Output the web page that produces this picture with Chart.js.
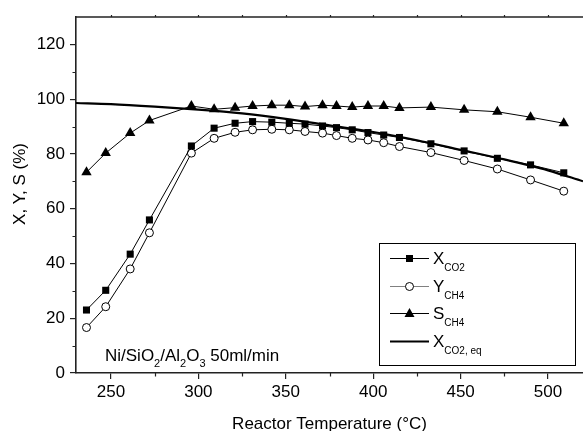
<!DOCTYPE html>
<html>
<head>
<meta charset="utf-8">
<script src="https://cdn.jsdelivr.net/npm/chart.js@4.4.1/dist/chart.umd.min.js"></script>
<style>
html, body { margin: 0; padding: 0; background: #fff; overflow: hidden; }
</style>
</head>
<body>
<canvas id="myChart" width="583" height="431"></canvas>
<script>
// reactor temperatures (°C) of the measured points
let temps = [236, 247, 261, 272, 296, 309, 321, 331, 342, 352, 361, 371, 379, 388, 397, 406, 415, 433, 452, 471, 490, 509];
let xCO2 = [23.0, 30.2, 43.4, 55.9, 82.9, 89.4, 91.2, 91.8, 91.6, 91.2, 90.9, 90.2, 89.6, 88.8, 87.8, 86.9, 86.0, 83.7, 81.1, 78.4, 76.0, 73.1];
let yCH4 = [16.6, 24.2, 38.0, 51.2, 80.3, 85.7, 87.9, 88.8, 89.0, 88.8, 88.2, 87.6, 86.7, 85.7, 85.1, 84.1, 82.7, 80.5, 77.6, 74.5, 70.5, 66.4];
let sCH4 = [73.3, 80.3, 87.6, 92.2, 97.5, 96.3, 96.9, 97.5, 97.8, 97.8, 97.3, 97.8, 97.5, 97.1, 97.5, 97.5, 96.8, 97.1, 96.1, 95.4, 93.4, 91.2];
// equilibrium conversion curve
let eqTemps = [230, 250, 275, 300, 325, 350, 375, 400, 425, 450, 475, 500, 520];
let xCO2eq = [98.6, 98.2, 97.3, 96.2, 94.8, 92.8, 90.4, 88.0, 85.0, 81.5, 78.0, 74.0, 70.0];

let xTicks = [250, 300, 350, 400, 450, 500];
let xMinor = [275, 325, 375, 425, 475];
let yTicks = [0, 20, 40, 60, 80, 100, 120];
let yMinor = [10, 30, 50, 70, 90, 110];

let fam = '"Liberation Sans", Arial, sans-serif';
let axisCol = '#222';

function pts(xs, ys) {
  return xs.map((x, i) => ({ x: x, y: ys[i] }));
}

// text with subscripts: parts = [[text, isSub], ...]
function subText(ctx, parts, x, y, size, subSize, drop) {
  parts.forEach(p => {
    ctx.font = (p[1] ? subSize : size) + 'px ' + fam;
    ctx.fillText(p[0], x, p[1] ? y + drop : y);
    x += ctx.measureText(p[0]).width;
  });
}

function marker(ctx, style, x, y) {
  ctx.save();
  ctx.lineWidth = 1;
  ctx.strokeStyle = '#000';
  ctx.beginPath();
  if (style === 'rect') {
    ctx.fillStyle = '#000';
    ctx.rect(x - 3.5, y - 3.5, 7, 7);
    ctx.fill();
  } else if (style === 'circle') {
    ctx.fillStyle = '#fff';
    ctx.arc(x, y, 4, 0, Math.PI * 2);
    ctx.fill();
    ctx.stroke();
  } else {
    ctx.fillStyle = '#000';
    ctx.moveTo(x, y - 5.5);
    ctx.lineTo(x + 5, y + 3.5);
    ctx.lineTo(x - 5, y + 3.5);
    ctx.closePath();
    ctx.fill();
  }
  ctx.restore();
}

let framePlugin = {
  id: 'frame',
  afterDraw(chart) {
    let ctx = chart.ctx;
    let a = chart.chartArea;
    let xs = chart.scales.x, ys = chart.scales.y;
    ctx.save();
    ctx.strokeStyle = axisCol;
    ctx.lineWidth = 1.6;
    // top border
    ctx.beginPath();
    ctx.moveTo(a.left, a.top);
    ctx.lineTo(a.right, a.top);
    ctx.stroke();
    ctx.lineWidth = 1.2;
    ctx.beginPath();
    xTicks.concat(xMinor).forEach(v => {
      let px = Math.round(xs.getPixelForValue(v)) + 0.5;
      ctx.moveTo(px, a.top);
      ctx.lineTo(px, a.top - 2);
    });
    xMinor.forEach(v => {
      let px = Math.round(xs.getPixelForValue(v)) + 0.5;
      ctx.moveTo(px, a.bottom);
      ctx.lineTo(px, a.bottom + 3.5);
    });
    yMinor.forEach(v => {
      let py = Math.round(ys.getPixelForValue(v)) + 0.5;
      ctx.moveTo(a.left, py);
      ctx.lineTo(a.left - 3.5, py);
    });
    ctx.stroke();

    // axis titles
    ctx.fillStyle = '#000';
    ctx.font = '17px ' + fam;
    ctx.textAlign = 'center';
    ctx.textBaseline = 'alphabetic';
    ctx.fillText('Reactor Temperature (°C)', (a.left + a.right) / 2, 429);
    ctx.save();
    ctx.translate(25, 184);
    ctx.rotate(-Math.PI / 2);
    ctx.fillText('X, Y, S (%)', 0, 0);
    ctx.restore();

    // catalyst label
    ctx.textAlign = 'left';
    subText(ctx, [['Ni/SiO', 0], ['2', 1], ['/Al', 0], ['2', 1], ['O', 0], ['3', 1], [' 50ml/min', 0]], 105, 361, 17, 11, 6);

    // legend
    ctx.lineWidth = 1;
    ctx.strokeStyle = '#000';
    ctx.strokeRect(379.5, 243.5, 196, 122);
    let rows = [
      { y: 258, color: '#000', style: 'rect', w: 1, parts: [['X', 0], ['CO2', 1]] },
      { y: 286, color: '#808080', style: 'circle', w: 1, parts: [['Y', 0], ['CH4', 1]] },
      { y: 313, color: '#000', style: 'triangle', w: 1, parts: [['S', 0], ['CH4', 1]] },
      { y: 341, color: '#000', style: null, w: 2, parts: [['X', 0], ['CO2, eq', 1]] }
    ];
    rows.forEach(r => {
      ctx.strokeStyle = r.color;
      ctx.lineWidth = r.w;
      ctx.beginPath();
      ctx.moveTo(390, r.y + 0.5);
      ctx.lineTo(429, r.y + 0.5);
      ctx.stroke();
      if (r.style) marker(ctx, r.style, 409.5, r.y + 0.5);
      ctx.fillStyle = '#000';
      subText(ctx, r.parts, 433, r.y + 6, 17, 10, 7);
    });
    ctx.restore();
  }
};

let ctx = document.getElementById('myChart').getContext('2d');

let myChart = new Chart(ctx, {
  type: 'scatter',
  data: {
    datasets: [{
      label: 'X_CO2',
      data: pts(temps, xCO2),
      showLine: true,
      borderColor: '#000',
      borderWidth: 1,
      backgroundColor: '#000',
      pointStyle: 'rect',
      pointRadius: 5,
      pointBorderWidth: 0,
      order: 2
    }, {
      label: 'Y_CH4',
      data: pts(temps, yCH4),
      showLine: true,
      borderColor: '#000',
      borderWidth: 1,
      backgroundColor: '#fff',
      pointStyle: 'circle',
      pointRadius: 4,
      pointBorderWidth: 1,
      pointBorderColor: '#000',
      order: 3
    }, {
      label: 'S_CH4',
      data: pts(temps, sCH4),
      showLine: true,
      borderColor: '#000',
      borderWidth: 1,
      backgroundColor: '#000',
      pointStyle: 'triangle',
      pointRadius: 6,
      pointBorderWidth: 0,
      order: 1
    }, {
      label: 'X_CO2,eq',
      data: pts(eqTemps, xCO2eq),
      showLine: true,
      borderColor: '#000',
      borderWidth: 2.2,
      pointRadius: 0,
      cubicInterpolationMode: 'monotone',
      order: 5
    }]
  },
  options: {
    responsive: false,
    animation: false,
    layout: { autoPadding: false, padding: { top: 17, right: 0, left: 0, bottom: 0 } },
    plugins: {
      legend: { display: false },
      tooltip: { enabled: false }
    },
    scales: {
      x: {
        type: 'linear',
        min: 230,
        max: 520,
        afterBuildTicks: s => { s.ticks = xTicks.map(v => ({ value: v })); },
        afterFit: s => { s.height = 58; s.paddingLeft = 0; s.paddingRight = 0; },
        grid: { drawOnChartArea: false, drawTicks: true, tickLength: 6, color: axisCol, lineWidth: 1.2 },
        border: { display: true, color: axisCol, width: 1.6 },
        ticks: { color: '#000', font: { family: fam, size: 17 }, padding: 3, maxRotation: 0 }
      },
      y: {
        min: 0,
        max: 130,
        afterBuildTicks: s => { s.ticks = yTicks.map(v => ({ value: v })); },
        afterFit: s => { s.width = 76; s.paddingTop = 0; s.paddingBottom = 0; },
        grid: { drawOnChartArea: false, drawTicks: true, tickLength: 6, color: axisCol, lineWidth: 1.2 },
        border: { display: true, color: axisCol, width: 1.6 },
        ticks: { color: '#000', font: { family: fam, size: 17 }, padding: 5 }
      }
    }
  },
  plugins: [framePlugin]
});
</script>
</body>
</html>
